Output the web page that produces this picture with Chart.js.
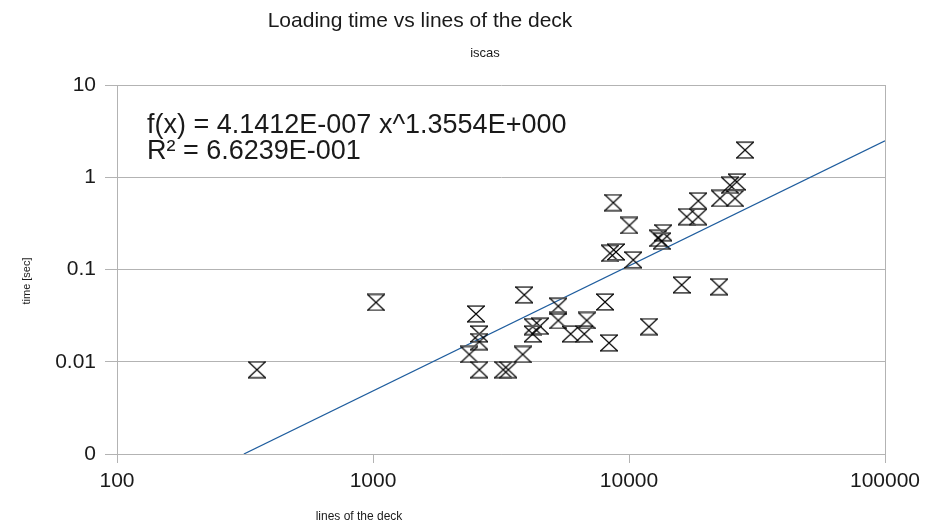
<!DOCTYPE html>
<html>
<head>
<meta charset="utf-8">
<title>Loading time vs lines of the deck</title>
<script src="https://cdn.jsdelivr.net/npm/chart.js@4/dist/chart.umd.min.js"></script>
<style>
  html, body { margin: 0; padding: 0; background: #ffffff; }
  #wrap { width: 941px; height: 526px; position: relative; }
</style>
</head>
<body>
<div id="wrap"><canvas id="chart" width="941" height="526"></canvas></div>
<script>
// Measurements: deck size (lines) and loading time (seconds)
const linesOfDeck = [352, 1027, 2525, 2602, 2602, 2378, 2602, 3228, 3377, 3844,
                     3899, 4206, 4490, 4206, 5293, 5293, 5918, 6690, 6835, 8060,
                     8354, 11970, 8684, 10030, 8430, 8895, 10390, 13610, 13020, 13420,
                     16060, 16800, 18650, 18650, 22530, 22670, 25950, 24800, 26350, 28390];
const loadTime    = [0.0082, 0.044, 0.033, 0.020, 0.0165, 0.012, 0.0082, 0.0082, 0.0082, 0.012,
                     0.053, 0.024, 0.0243, 0.020, 0.040, 0.028, 0.020, 0.020, 0.028, 0.0445,
                     0.016, 0.024, 0.53, 0.30, 0.15, 0.155, 0.127, 0.25, 0.218, 0.203,
                     0.068, 0.373, 0.555, 0.373, 0.065, 0.59, 0.59, 0.82, 0.89, 1.97];

// Power-law trend line f(x) = a * x^b over the plotted range
const fitCoefA = 4.1412e-7;
const fitExpB = 1.3554;
const fitRange = [313, 100000];

const xTickValues = [100, 1000, 10000, 100000];
const xTickLabels = ['100', '1000', '10000', '100000'];
const yTickValues = [0.001, 0.01, 0.1, 1, 10];
const yTickLabels = ['0', '0.01', '0.1', '1', '10'];

const chartTitle = 'Loading time vs lines of the deck';
const chartSubtitle = 'iscas';
const xAxisTitle = 'lines of the deck';
const yAxisTitle = 'time [sec]';
const fitLabelLines = ['f(x) = 4.1412E-007 x^1.3554E+000', 'R\u00B2 = 6.6239E-001'];

const FONT = '"Liberation Sans", Arial, sans-serif';
const GRID = '#b3b3b3';
const TEXT = '#1a1a1a';

const points = linesOfDeck.map((x, i) => ({ x: x, y: loadTime[i] }));
const fitPoints = fitRange.map(x => ({ x: x, y: fitCoefA * Math.pow(x, fitExpB) }));

// Hourglass marker: horizontal bars top and bottom joined by crossing diagonals
function makeHourglass() {
  const w = 18, h = 18;
  const c = document.createElement('canvas');
  c.width = w; c.height = h;
  const g = c.getContext('2d');
  g.lineCap = 'butt';
  g.strokeStyle = '#555';
  g.lineWidth = 1.7;
  g.beginPath();
  g.moveTo(0, 1.2); g.lineTo(18, 1.2);
  g.moveTo(0, 16.8); g.lineTo(18, 16.8);
  g.stroke();
  g.strokeStyle = '#000';
  g.lineWidth = 1.1;
  g.beginPath();
  g.moveTo(0.5, 1); g.lineTo(17.5, 17);
  g.moveTo(17.5, 1); g.lineTo(0.5, 17);
  g.stroke();
  return c;
}

const decorations = {
  id: 'decorations',
  afterDraw(chart) {
    const ctx = chart.ctx;
    const a = chart.chartArea;
    ctx.save();
    // right edge of the plot frame
    ctx.strokeStyle = GRID;
    ctx.lineWidth = 1;
    ctx.beginPath();
    ctx.moveTo(Math.round(a.right) + 0.5, a.top);
    ctx.lineTo(Math.round(a.right) + 0.5, a.bottom);
    ctx.stroke();

    ctx.fillStyle = TEXT;
    ctx.textAlign = 'center';
    ctx.textBaseline = 'alphabetic';
    ctx.font = '21px ' + FONT;
    ctx.fillText(chartTitle, 420, 27);
    ctx.font = '13px ' + FONT;
    ctx.fillText(chartSubtitle, 485, 57);

    ctx.font = '12px ' + FONT;
    ctx.textBaseline = 'middle';
    ctx.fillText(xAxisTitle, 359, 517);

    ctx.save();
    ctx.translate(27, 281);
    ctx.rotate(-Math.PI / 2);
    ctx.font = '11px ' + FONT;
    ctx.fillText(yAxisTitle, 0, 0);
    ctx.restore();

    ctx.textAlign = 'left';
    ctx.textBaseline = 'alphabetic';
    ctx.font = '27px ' + FONT;
    ctx.fillText(fitLabelLines[0], 147, 133);
    ctx.fillText(fitLabelLines[1], 147, 159);
    ctx.restore();
  }
};

new Chart(document.getElementById('chart'), {
  type: 'scatter',
  data: {
    datasets: [
      {
        label: 'loading time',
        data: points,
        pointStyle: makeHourglass(),
        pointRadius: 9,
        pointHoverRadius: 9,
        showLine: false
      },
      {
        label: 'trend',
        data: fitPoints,
        showLine: true,
        borderColor: '#1f5d9e',
        borderWidth: 1.2,
        pointRadius: 0,
        fill: false
      }
    ]
  },
  options: {
    responsive: false,
    animation: false,
    devicePixelRatio: 1,
    layout: { padding: { top: 85, right: 56, left: 0, bottom: 0 } },
    plugins: {
      legend: { display: false },
      tooltip: { enabled: false },
      title: { display: false }
    },
    scales: {
      x: {
        type: 'logarithmic',
        min: 100,
        max: 100000,
        afterBuildTicks(scale) { scale.ticks = xTickValues.map(v => ({ value: v })); },
        afterFit(scale) { scale.height = 72; },
        ticks: {
          autoSkip: false,
          maxRotation: 0,
          padding: 6,
          color: TEXT,
          font: { family: FONT, size: 21 },
          callback: (v, i) => xTickLabels[i]
        },
        grid: { drawOnChartArea: false, drawTicks: true, tickLength: 9, color: GRID },
        border: { display: true, color: GRID }
      },
      y: {
        type: 'logarithmic',
        min: 0.001,
        max: 10,
        afterBuildTicks(scale) { scale.ticks = yTickValues.map(v => ({ value: v })); },
        afterFit(scale) { scale.width = 117; },
        ticks: {
          autoSkip: false,
          padding: 9,
          color: TEXT,
          font: { family: FONT, size: 21 },
          callback: (v, i) => yTickLabels[i]
        },
        grid: { drawOnChartArea: true, drawTicks: true, tickLength: 12, color: GRID },
        border: { display: true, color: GRID }
      }
    }
  },
  plugins: [decorations]
});
</script>
</body>
</html>
